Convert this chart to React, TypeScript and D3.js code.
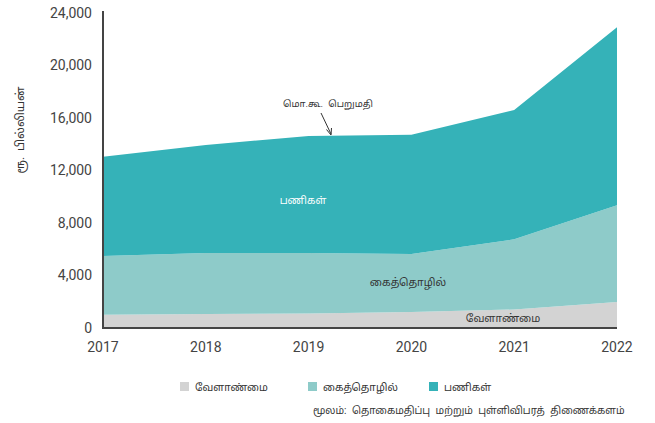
import React from "react";
import * as d3 from "d3";

const years = [2017, 2018, 2019, 2020, 2021, 2022];
const agriculture = [1010, 1070, 1100, 1220, 1410, 1980];
const industry = [4480, 4640, 4610, 4420, 5350, 7370];
const services = [7560, 8230, 8920, 9090, 9850, 13560];
const yTicks = [0, 4000, 8000, 12000, 16000, 20000, 24000];
const seriesNames = ["வேளாண்மை", "கைத்தொழில்", "பணிகள்"];
const colors = ["#d3d3d3", "#8ecbc9", "#35b2b8"];

const W = 655, H = 423;
const M = { left: 103, right: 617, top: 13, bottom: 328 };

export default function App() {
  const x = d3.scaleLinear().domain([2017, 2022]).range([M.left, M.right]);
  const y = d3.scaleLinear().domain([0, 24000]).range([M.bottom, M.top]);
  const rows = years.map((yr, i) => ({ year: yr, a: agriculture[i], b: industry[i], c: services[i] }));
  const stack = d3.stack<any>().keys(["a", "b", "c"])(rows);
  const area = d3
    .area<any>()
    .x((d) => x(d.data.year))
    .y0((d) => y(d[0]))
    .y1((d) => y(d[1]));
  const font = "Roboto, 'Noto Sans Tamil', 'Lohit Tamil', 'Noto Sans', sans-serif";
  const fmt = d3.format(",");
  const legendX = [180, 308, 429];
  return (
    <svg width={W} height={H} style={{ position: "absolute", left: 0, top: 0 }} fontFamily={font}>
      {stack.map((s, i) => (
        <path key={i} d={area(s) || ""} fill={colors[i]} />
      ))}
      <line x1={M.left} x2={M.left} y1={M.top - 2} y2={M.bottom + 1} stroke="#444" strokeWidth={2} />
      <line x1={M.left} x2={M.right} y1={M.bottom} y2={M.bottom} stroke="#444" strokeWidth={2} />
      {yTicks.map((t) => (
        <text key={t} x={92} y={y(t)} dy="0.35em" textAnchor="end" fontSize={14} fill="#444">
          {fmt(t)}
        </text>
      ))}
      {years.map((yr) => (
        <text key={yr} x={x(yr)} y={352} textAnchor="middle" fontSize={14} fill="#444">
          {yr}
        </text>
      ))}
      <text transform="translate(24,130) rotate(-90)" textAnchor="middle" fontSize={11.7} fill="#333" wordSpacing={3}>
        ரூ. பில்லியன்
      </text>
      <text x={283} y={107} fontSize={9.4} fill="#333" wordSpacing={3}>மொ.கூ. பெறுமதி</text>
      <line x1={321} y1={113} x2={331} y2={134} stroke="#333" strokeWidth={1} />
      <path d="M326.5,129.5 L331,135 L331.5,128" fill="none" stroke="#333" strokeWidth={1} />
      <text x={303} y={204} textAnchor="middle" fontSize={10.2} fill="#fff">{seriesNames[2]}</text>
      <text x={408} y={286} textAnchor="middle" fontSize={10.5} fill="#333">{seriesNames[1]}</text>
      <text x={503} y={322} textAnchor="middle" fontSize={10.5} fill="#333">{seriesNames[0]}</text>
      {seriesNames.map((n, i) => (
        <g key={n}>
          <rect x={legendX[i]} y={382} width={9} height={9} fill={colors[i]} />
          <text x={legendX[i] + 15} y={391} fontSize={10.3} fill="#333">{n}</text>
        </g>
      ))}
      <text x={313} y={414} fontSize={10} fill="#333" wordSpacing={3}>மூலம்: தொகைமதிப்பு மற்றும் புள்ளிவிபரத் திணைக்களம்</text>
    </svg>
  );
}
